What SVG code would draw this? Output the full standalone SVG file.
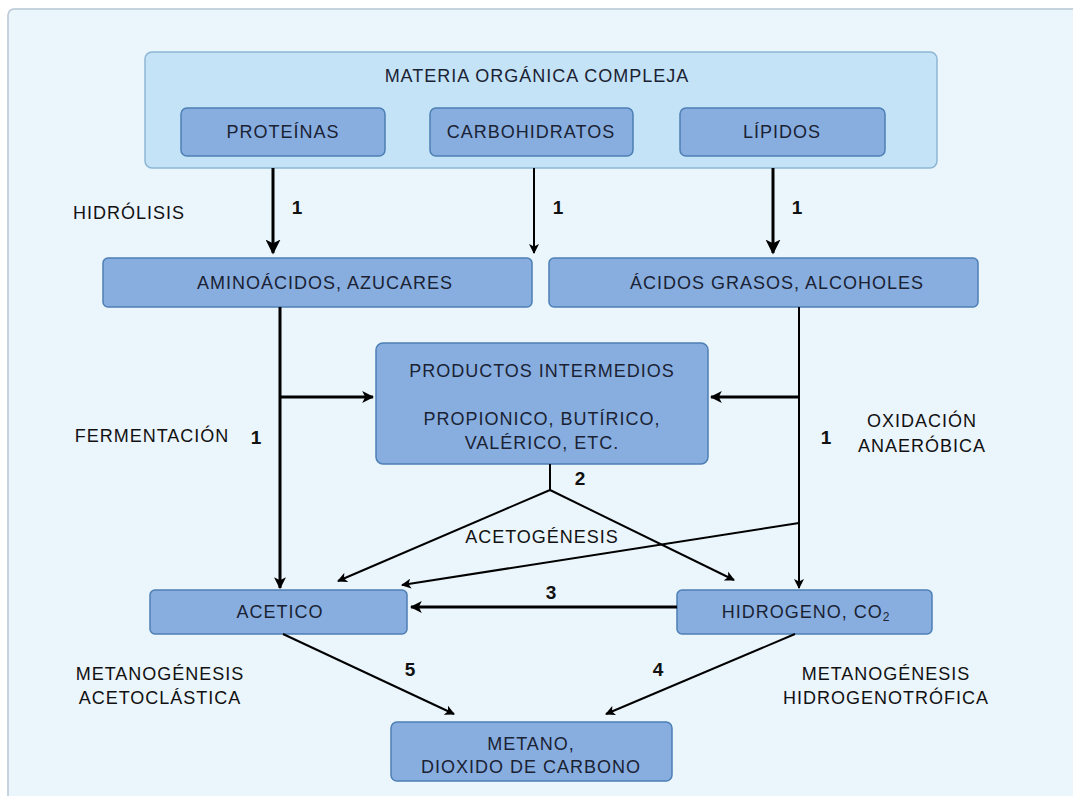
<svg xmlns="http://www.w3.org/2000/svg" width="1073" height="796" viewBox="0 0 1073 796">
<style>
.bg{fill:#ebf5fc;stroke:#b7c6d2;stroke-width:1.5}
.grp{fill:#c4e3f7;stroke:#8db6d4;stroke-width:1.5}
.box{fill:#88aee0;stroke:#4d7fb4;stroke-width:1.5}
.t{font-family:"Liberation Sans",Arial,sans-serif;font-size:18px;letter-spacing:1px;fill:#1a2233;text-anchor:middle}
.l{font-family:"Liberation Sans",Arial,sans-serif;font-size:18px;letter-spacing:1px;fill:#111;text-anchor:middle}
.n{font-family:"Liberation Sans",Arial,sans-serif;font-size:19px;font-weight:bold;fill:#111;text-anchor:middle}
.c{fill:none;stroke:#000;stroke-width:2}
.ct{fill:none;stroke:#000;stroke-width:3}
</style>
<defs>
<marker id="ah" viewBox="0 0 10 10" refX="9" refY="5" markerWidth="5" markerHeight="5" markerUnits="strokeWidth" orient="auto">
<path d="M0,0 L10,5 L0,10 L2.5,5 z" fill="#000"/>
</marker>
<marker id="ah2" viewBox="0 0 10 10" refX="9" refY="5" markerWidth="4" markerHeight="4" markerUnits="strokeWidth" orient="auto">
<path d="M0,0 L10,5 L0,10 L2.5,5 z" fill="#000"/>
</marker>
</defs>
<rect x="0" y="0" width="1073" height="796" fill="#ffffff"/>
<rect class="bg" x="8" y="9" width="1080" height="800" rx="6"/>

<g id="materia">
<rect class="grp" x="145" y="52" width="792" height="116" rx="7"/>
<text class="t" x="537" y="82">MATERIA ORGÁNICA COMPLEJA</text>
</g>
<g id="proteinas">
<rect class="box" x="181" y="108" width="204" height="48" rx="6"/>
<text class="t" x="283" y="138">PROTEÍNAS</text>
</g>
<g id="carbohidratos">
<rect class="box" x="430" y="108" width="203" height="48" rx="6"/>
<text class="t" x="531" y="138">CARBOHIDRATOS</text>
</g>
<g id="lipidos">
<rect class="box" x="680" y="108" width="205" height="48" rx="6"/>
<text class="t" x="782" y="138">LÍPIDOS</text>
</g>
<g id="aminoacidos">
<rect class="box" x="103" y="258" width="429" height="49" rx="5"/>
<text class="t" x="325" y="289">AMINOÁCIDOS, AZUCARES</text>
</g>
<g id="acidos">
<rect class="box" x="549" y="258" width="429" height="49" rx="5"/>
<text class="t" x="777" y="289">ÁCIDOS GRASOS, ALCOHOLES</text>
</g>
<g id="intermedios">
<rect class="box" x="376" y="343" width="332" height="121" rx="7"/>
<text class="t" x="542" y="377">PRODUCTOS INTERMEDIOS</text>
<text class="t" x="542" y="425">PROPIONICO, BUTÍRICO,</text>
<text class="t" x="542" y="449">VALÉRICO, ETC.</text>
</g>
<g id="acetico">
<rect class="box" x="150" y="590" width="257" height="44" rx="5"/>
<text class="t" x="280" y="618">ACETICO</text>
</g>
<g id="hidrogeno">
<rect class="box" x="677" y="590" width="255" height="44" rx="5"/>
<text class="t" x="806" y="618">HIDROGENO, CO<tspan font-size="12" dy="3">2</tspan></text>
</g>
<g id="metano">
<rect class="box" x="391" y="722" width="281" height="59" rx="6"/>
<text class="t" x="531" y="750">METANO,</text>
<text class="t" x="531" y="773">DIOXIDO DE CARBONO</text>
</g>

<g id="labels">
<text class="l" x="129" y="219">HIDRÓLISIS</text>
<text class="l" x="152" y="442">FERMENTACIÓN</text>
<text class="l" x="922" y="427">OXIDACIÓN</text>
<text class="l" x="922" y="452">ANAERÓBICA</text>
<text class="l" x="542" y="543">ACETOGÉNESIS</text>
<text class="l" x="160" y="680">METANOGÉNESIS</text>
<text class="l" x="160" y="704">ACETOCLÁSTICA</text>
<text class="l" x="886" y="680">METANOGÉNESIS</text>
<text class="l" x="886" y="704">HIDROGENOTRÓFICA</text>
<text class="n" x="297" y="214">1</text>
<text class="n" x="558" y="214">1</text>
<text class="n" x="797" y="214">1</text>
<text class="n" x="256" y="444">1</text>
<text class="n" x="826" y="444">1</text>
<text class="n" x="580" y="485">2</text>
<text class="n" x="551" y="599">3</text>
<text class="n" x="410" y="676">5</text>
<text class="n" x="658" y="676">4</text>
</g>

<g id="connectors">
<line class="ct" x1="273" y1="168" x2="273" y2="253" marker-end="url(#ah)"/>
<line class="c" x1="534" y1="168" x2="534" y2="253" marker-end="url(#ah)"/>
<line class="ct" x1="773" y1="168" x2="773" y2="253" marker-end="url(#ah)"/>
<line class="ct" x1="280" y1="307" x2="280" y2="588" marker-end="url(#ah2)"/>
<line class="ct" x1="280" y1="397" x2="373" y2="397" marker-end="url(#ah2)"/>
<line class="c" x1="799" y1="307" x2="799" y2="588" marker-end="url(#ah)"/>
<line class="ct" x1="799" y1="397" x2="711" y2="397" marker-end="url(#ah2)"/>
<line class="c" x1="550" y1="464" x2="550" y2="490"/>
<line class="c" x1="550" y1="490" x2="338" y2="581" marker-end="url(#ah)"/>
<line class="c" x1="550" y1="490" x2="734" y2="580" marker-end="url(#ah)"/>
<line class="c" x1="799" y1="523" x2="402" y2="585" marker-end="url(#ah)"/>
<line class="ct" x1="677" y1="607" x2="411" y2="607" marker-end="url(#ah2)"/>
<line class="c" x1="283" y1="634" x2="454" y2="714" marker-end="url(#ah)"/>
<line class="c" x1="795" y1="634" x2="606" y2="714" marker-end="url(#ah)"/>
</g>
</svg>
